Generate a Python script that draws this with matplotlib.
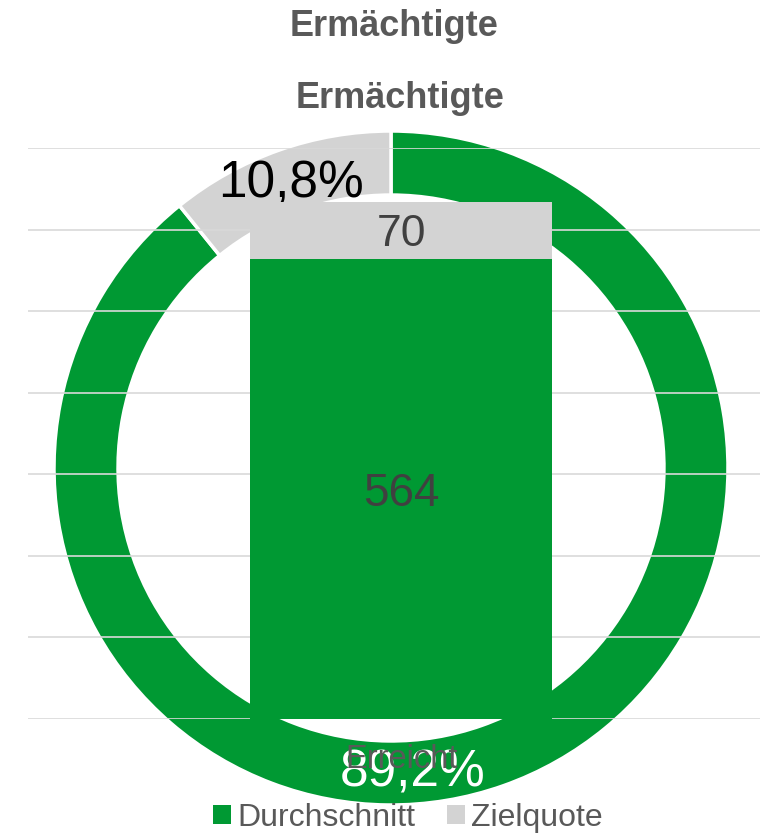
import matplotlib
matplotlib.use("Agg")
import matplotlib.pyplot as plt
from matplotlib.patches import Patch

plt.rcParams['font.family'] = ['Liberation Sans', 'DejaVu Sans']

# ---- data ----
title = "Ermächtigte"
categories = ["Erreicht"]
durchschnitt = [564]
zielquote = [70]
donut_labels = ["Durchschnitt", "Zielquote"]
donut_values = [89.2, 10.8]
y_ticks = [0, 100, 200, 300, 400, 500, 600, 700]

GREEN = "#009933"
GREY = "#D3D3D3"
TXT = "#595959"

W, H = 761, 833
fig = plt.figure(figsize=(W / 100, H / 100), dpi=100)

# ---- donut (background) ----
cx, cy, r = 391, 468, 337
axd = fig.add_axes([(cx - r) / W, (H - cy - r) / H, 2 * r / W, 2 * r / H])
wedges, texts, autotexts = axd.pie(
    donut_values, colors=[GREEN, GREY], startangle=90, counterclock=False,
    radius=1, wedgeprops=dict(width=0.19, edgecolor="white", linewidth=2.5),
    autopct=lambda p: f"{p:.1f}%".replace(".", ","), pctdistance=0.89,
    textprops=dict(fontsize=37))
axd.set_xlim(-1, 1)
axd.set_ylim(-1, 1)
axd.set_aspect("equal")
axd.axis("off")
autotexts[0].set_color("white")
autotexts[0].set_position((0.065, -0.905))
autotexts[1].set_color("black")
autotexts[1].set_position((-0.297, 0.843))

# ---- stacked bar (foreground) ----
left_px, right_px, top_px, bot_px = 28, 760, 148, 719
axb = fig.add_axes([left_px / W, (H - bot_px) / H, (right_px - left_px) / W,
                    (bot_px - top_px) / H])
axb.set_facecolor("none")
x = list(range(len(categories)))
b1 = axb.bar(x, durchschnitt, width=0.4126, color=GREEN, zorder=3)
b2 = axb.bar(x, zielquote, bottom=durchschnitt, width=0.4126, color=GREY, zorder=3)
t1 = axb.bar_label(b1, labels=[str(v) for v in durchschnitt], label_type="center",
                   fontsize=33, color="#404040")
t2 = axb.bar_label(b2, labels=[str(v) for v in zielquote], label_type="center",
                   fontsize=32, color="#404040")
for t in list(t1) + list(t2):
    t.set_va("center_baseline")
axb.set_xlim(-0.51, 0.49)
axb.set_ylim(0, 700)
axb.set_yticks(y_ticks)
axb.set_yticklabels([])
axb.tick_params(axis="y", length=0)
axb.set_xticks(x)
axb.set_xticklabels(categories, fontsize=23.5, color=TXT)
axb.tick_params(axis="x", length=0, pad=18)
axb.grid(axis="y", color="#D9D9D9", linewidth=1.2, zorder=0)
axb.set_axisbelow(True)
for s in axb.spines.values():
    s.set_visible(False)

# ---- titles ----
fig.text(394 / W, 1 - 27 / H, title, ha="center", va="center", fontsize=26,
         fontweight="bold", color=TXT)
fig.text(400 / W, 1 - 99 / H, title, ha="center", va="center", fontsize=26,
         fontweight="bold", color=TXT)

# ---- legend ----
handles = [Patch(facecolor=GREEN), Patch(facecolor=GREY)]
fig.legend(handles, donut_labels, loc="center", bbox_to_anchor=(408 / W, 1 - 818 / H),
           ncol=2, frameon=False, fontsize=23, labelcolor=TXT,
           handlelength=0.55, handleheight=0.55, handletextpad=0.2, columnspacing=1.0)

fig.savefig("out.png", dpi=100)
